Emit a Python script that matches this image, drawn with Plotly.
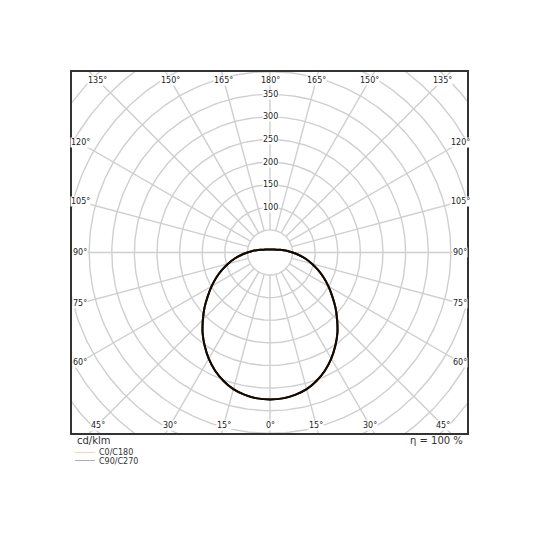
import numpy as np
import plotly.graph_objects as go

# Luminous intensity distribution (cd/klm)
gamma = [0, 5, 10, 15, 20, 25, 30, 35, 40, 45, 50, 55, 60, 65, 70, 75, 80, 85,
         90, 95, 100, 105, 110, 115, 120, 130, 140, 150, 160, 170, 180]
c0_c180 = [325, 324, 320, 313, 302, 288, 271, 252, 232, 210, 189, 168, 149, 131,
           113, 96, 80, 64, 50, 39, 30, 23, 18, 15, 13, 10.5, 8.8, 7.7, 7.0, 6.7, 6.6]
c90_c270 = [325, 324, 320, 313, 302, 288, 271, 252, 232, 210, 189, 168, 149, 131,
            113, 96, 80, 64, 50, 39, 30, 23, 18, 15, 13, 10.5, 8.8, 7.7, 7.0, 6.7, 6.6]

ring_values = [50, 100, 150, 200, 250, 300, 350, 400, 450, 500, 550, 600]
ring_labels = [100, 150, 200, 250, 300, 350]
spoke_angles = list(range(0, 360, 15))
unit_label = "cd/klm"
efficiency = "η = 100 %"
legend_names = ["C0/C180", "C90/C270"]
legend_colors = ["#f7d6a0", "#a9b0b8"]

# layout geometry (pixels, as seen in the window; the page body adds 8px)
W, H = 540, 540
OFF = 8
L, R, T, B = 72, 467, 72, 433
CX, CY = 270, 252.5
SCALE = 0.452  # px per cd/klm


def px_to_paper(px, py):
    return (px - L) / (R - L), (B - py) / (B - T)


def plane(values):
    g = np.radians(np.array(gamma, dtype=float))
    v = np.array(values, dtype=float)
    # left half (C180 / C270) from 180 down to 0, then right half (C0 / C90)
    xs = np.concatenate([-(v * np.sin(g))[::-1], (v * np.sin(g))[1:]])
    ys = np.concatenate([(-v * np.cos(g))[::-1], (-v * np.cos(g))[1:]])
    return xs, ys


fig = go.Figure()

# grid rings
t = np.linspace(0, 2 * np.pi, 361)
gx, gy = [], []
for r in ring_values:
    gx += list(r * np.cos(t)) + [None]
    gy += list(r * np.sin(t)) + [None]
fig.add_trace(go.Scatter(x=gx, y=gy, mode="lines", line=dict(color="#cfcfcf", width=1.4),
                         hoverinfo="skip", showlegend=False))

# spokes, starting at the inner ring
sx, sy = [], []
r0, r1 = ring_values[0], 900
for a in spoke_angles:
    ar = np.radians(a)
    sx += [r0 * np.sin(ar), r1 * np.sin(ar), None]
    sy += [-r0 * np.cos(ar), -r1 * np.cos(ar), None]
fig.add_trace(go.Scatter(x=sx, y=sy, mode="lines", line=dict(color="#cfcfcf", width=1.4),
                         hoverinfo="skip", showlegend=False))

# curves
x90, y90 = plane(c90_c270)
fig.add_trace(go.Scatter(x=x90, y=y90, mode="lines", line=dict(color="#141414", width=2),
                         line_shape="spline", name=legend_names[1], showlegend=False))
x0, y0 = plane(c0_c180)
fig.add_trace(go.Scatter(x=x0, y=y0, mode="lines", line=dict(color="#140a02", width=2),
                         line_shape="spline", name=legend_names[0], showlegend=False))

ann = []
lab_font = dict(family="DejaVu Sans", size=8, color="#222222")

# angle labels along the frame
y_row = (CY - 80) / SCALE
x_col = (CX - 80) / SCALE
for a in spoke_angles:
    ar = np.radians(a)
    s, c = np.sin(ar), -np.cos(ar)
    folded = a if a <= 180 else 360 - a
    if folded >= 135:
        k = y_row / c
    elif folded <= 45:
        k = -y_row / c
    else:
        k = x_col / abs(s)
    ann.append(dict(x=k * s, y=k * c, xref="x", yref="y", text=f"{folded}°",
                    showarrow=False, font=lab_font, bgcolor="white", borderpad=0,
                    xanchor="center", yanchor="middle"))

# radial labels
for r in ring_labels:
    ann.append(dict(x=0, y=r, xref="x", yref="y", text=str(r), showarrow=False,
                    font=lab_font, bgcolor="white", borderpad=0,
                    xanchor="center", yanchor="middle"))

# texts below the frame
px, py = px_to_paper(75, 440)
ann.append(dict(x=px, y=py, xref="paper", yref="paper", text=unit_label, showarrow=False,
                font=dict(family="DejaVu Sans", size=10, color="#333333"),
                xanchor="left", yanchor="middle"))
px, py = px_to_paper(465, 440)
ann.append(dict(x=px, y=py, xref="paper", yref="paper", text=efficiency, showarrow=False,
                font=dict(family="DejaVu Sans", size=10, color="#333333"),
                xanchor="right", yanchor="middle"))

# hand-made legend
shapes = []
for i, (nm, col) in enumerate(zip(legend_names, legend_colors)):
    ly = 452.5 + 8 * i
    xa, ya = px_to_paper(75, ly)
    xb, _ = px_to_paper(95, ly)
    shapes.append(dict(type="line", xref="paper", yref="paper", x0=xa, x1=xb, y0=ya, y1=ya,
                       line=dict(color=col, width=1)))
    tx, ty = px_to_paper(98, ly + 0.5)
    ann.append(dict(x=tx, y=ty, xref="paper", yref="paper", text=nm, showarrow=False,
                    font=dict(family="DejaVu Sans", size=8, color="#333333"),
                    xanchor="left", yanchor="middle", borderpad=0))

xr = [-(CX - L) / SCALE, (R - CX) / SCALE]
yr = [-(B - CY) / SCALE, (CY - T) / SCALE]
axis = dict(showgrid=False, zeroline=False, showticklabels=False, ticks="",
            showline=True, mirror=True, linecolor="#333333", linewidth=2)

fig.update_layout(
    width=W, height=H,
    margin=dict(l=L - OFF, r=W - R + OFF, t=T - OFF, b=H - B + OFF),
    paper_bgcolor="white", plot_bgcolor="white",
    xaxis=dict(range=xr, **axis),
    yaxis=dict(range=yr, **axis),
    annotations=ann, shapes=shapes,
    showlegend=False,
)

fig.write_html("out.html")
